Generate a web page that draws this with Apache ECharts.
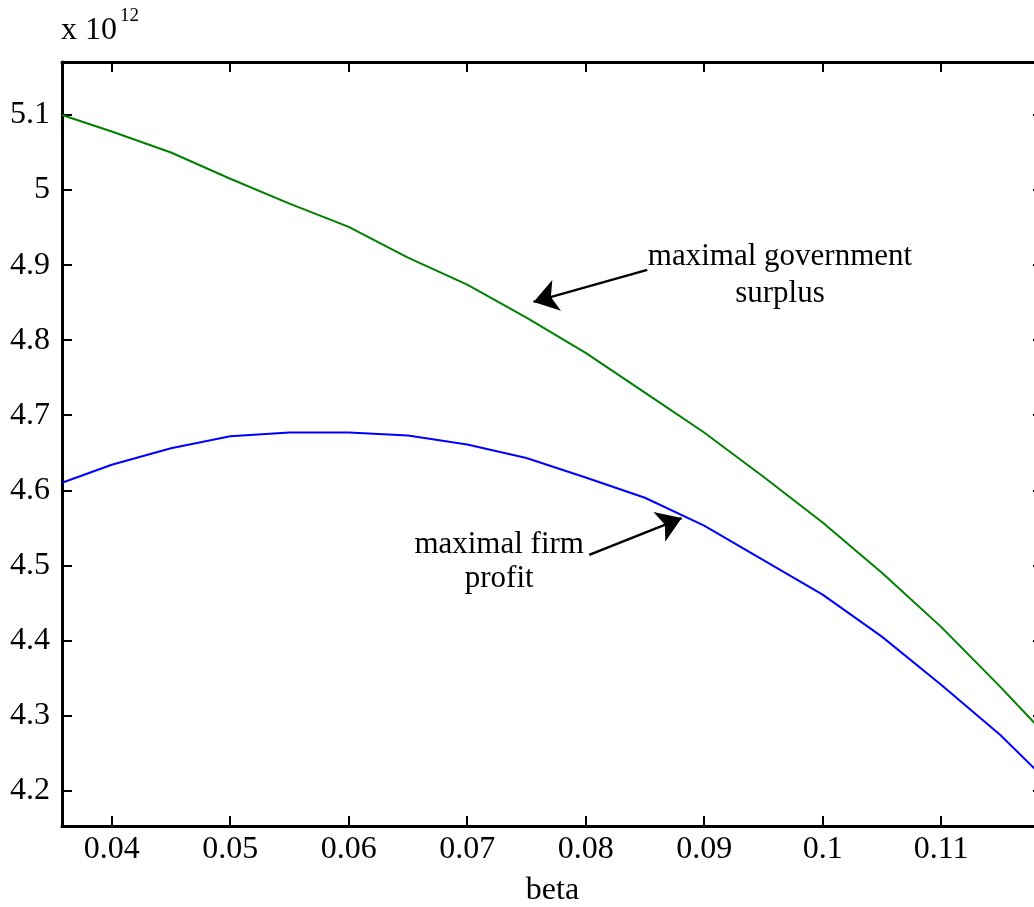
<!DOCTYPE html>
<html>
<head>
<meta charset="utf-8">
<script src="https://cdn.jsdelivr.net/npm/echarts@6/dist/echarts.min.js"></script>
<style>
    html, body { margin: 0; padding: 0; background: #fff; }
    #chart { width: 1034px; height: 907px; }
</style>
</head>
<body>
<div id="chart"></div>
<script>
// beta values (x) and the two curves (units of 10^12)
const betaValues = [0.0358, 0.04, 0.045, 0.05, 0.055, 0.06, 0.065, 0.07, 0.075, 0.08,
    0.085, 0.09, 0.095, 0.1, 0.105, 0.11, 0.115, 0.1186];
const govSurplus = [5.100, 5.078, 5.050, 5.015, 4.982, 4.951, 4.910, 4.874, 4.830, 4.783,
    4.730, 4.677, 4.618, 4.557, 4.490, 4.418, 4.338, 4.278];
const firmProfit = [4.610, 4.634, 4.656, 4.672, 4.677, 4.677, 4.673, 4.661, 4.643, 4.617,
    4.590, 4.553, 4.507, 4.461, 4.405, 4.341, 4.274, 4.218];

const xTicks = [0.04, 0.05, 0.06, 0.07, 0.08, 0.09, 0.1, 0.11];
const yTicks = [4.2, 4.3, 4.4, 4.5, 4.6, 4.7, 4.8, 4.9, 5, 5.1];

// annotation arrows: [tail, head] in data coordinates
const govArrow = [[0.0852, 4.8936], [0.0756, 4.851]];
const firmArrow = [[0.0803, 4.514], [0.0881, 4.563]];
const govText = { text: 'maximal government\nsurplus', at: [0.0964, 4.887] };
const firmText = { text: 'maximal firm\nprofit', at: [0.0727, 4.504] };

const FONT = 'Liberation Serif';

window.onload = () => {
    new BetaChart().main();
};

class BetaChart {
    chart;

    main() {
        this.chart = echarts.init(document.getElementById('chart'), null, { renderer: 'canvas' });
        this.chart.setOption(this.buildOption());
        this.placeTexts();
    }

    fmt(v) {
        return String(+Number(v).toFixed(3));
    }

    xAxisCfg(pos, showLabels) {
        return {
            type: 'value',
            position: pos,
            min: betaValues[0],
            max: betaValues[betaValues.length - 1],
            name: showLabels ? 'beta' : '',
            nameLocation: 'middle',
            nameGap: 49,
            nameTextStyle: { fontFamily: FONT, fontSize: 32, color: '#000' },
            axisLine: { show: true, onZero: false, lineStyle: { color: '#000', width: 3 } },
            axisTick: { show: true, inside: true, length: 10, customValues: xTicks,
                lineStyle: { color: '#000', width: 2 } },
            axisLabel: { show: showLabels, customValues: xTicks, margin: 8,
                fontFamily: FONT, fontSize: 32, color: '#000', formatter: v => this.fmt(v) },
            splitLine: { show: false }
        };
    }

    yAxisCfg(pos, showLabels) {
        return {
            type: 'value',
            position: pos,
            min: 4.1527,
            max: 5.1706,
            axisLine: { show: true, onZero: false, lineStyle: { color: '#000', width: 3 } },
            axisTick: { show: true, inside: true, length: 10, customValues: yTicks,
                lineStyle: { color: '#000', width: 2 } },
            axisLabel: { show: showLabels, customValues: yTicks, margin: 12,
                fontFamily: FONT, fontSize: 32, color: '#000', formatter: v => this.fmt(v) },
            splitLine: { show: false }
        };
    }

    arrowLine(arrow) {
        return [{ coord: arrow[0] }, { coord: arrow[1] }];
    }

    arrowMark(arrow) {
        return {
            silent: true,
            symbol: ['none', 'arrow'],
            symbolSize: 24,
            label: { show: false },
            lineStyle: { color: '#000', width: 2.5, type: 'solid' },
            itemStyle: { color: '#000' },
            data: [this.arrowLine(arrow)]
        };
    }

    buildOption() {
        return {
            backgroundColor: '#fff',
            animation: false,
            grid: { left: 62, top: 62, width: 981, height: 764,
                containLabel: false, outerBoundsMode: 'none' },
            xAxis: [this.xAxisCfg('bottom', true), this.xAxisCfg('top', false)],
            yAxis: [this.yAxisCfg('left', true), this.yAxisCfg('right', false)],
            series: [
                {
                    type: 'line',
                    data: betaValues.map((b, i) => [b, govSurplus[i]]),
                    showSymbol: false,
                    lineStyle: { color: '#008000', width: 2 },
                    itemStyle: { color: '#008000' },
                    markLine: this.arrowMark(govArrow)
                },
                {
                    type: 'line',
                    data: betaValues.map((b, i) => [b, firmProfit[i]]),
                    showSymbol: false,
                    lineStyle: { color: '#0000ff', width: 2 },
                    itemStyle: { color: '#0000ff' },
                    markLine: this.arrowMark(firmArrow)
                }
            ]
        };
    }

    placeTexts() {
        let ch = this.chart;
        let textEl = (t, lh) => {
            let p = ch.convertToPixel({ xAxisIndex: 0, yAxisIndex: 0 }, t.at);
            return {
                type: 'text', x: p[0], y: p[1], silent: true,
                style: { text: t.text, fill: '#000', font: '31px "' + FONT + '"',
                    align: 'center', verticalAlign: 'middle', lineHeight: lh }
            };
        };
        ch.setOption({
            graphic: [
                textEl(govText, 37),
                textEl(firmText, 34),
                { type: 'text', x: 61, y: 47, silent: true,
                  style: { text: 'x 10', fill: '#000', font: '32px "' + FONT + '"',
                      align: 'left', verticalAlign: 'bottom' } },
                { type: 'text', x: 120, y: 26, silent: true,
                  style: { text: '12', fill: '#000', font: '19px "' + FONT + '"',
                      align: 'left', verticalAlign: 'bottom' } }
            ]
        });
    }
}
</script>
</body>
</html>
